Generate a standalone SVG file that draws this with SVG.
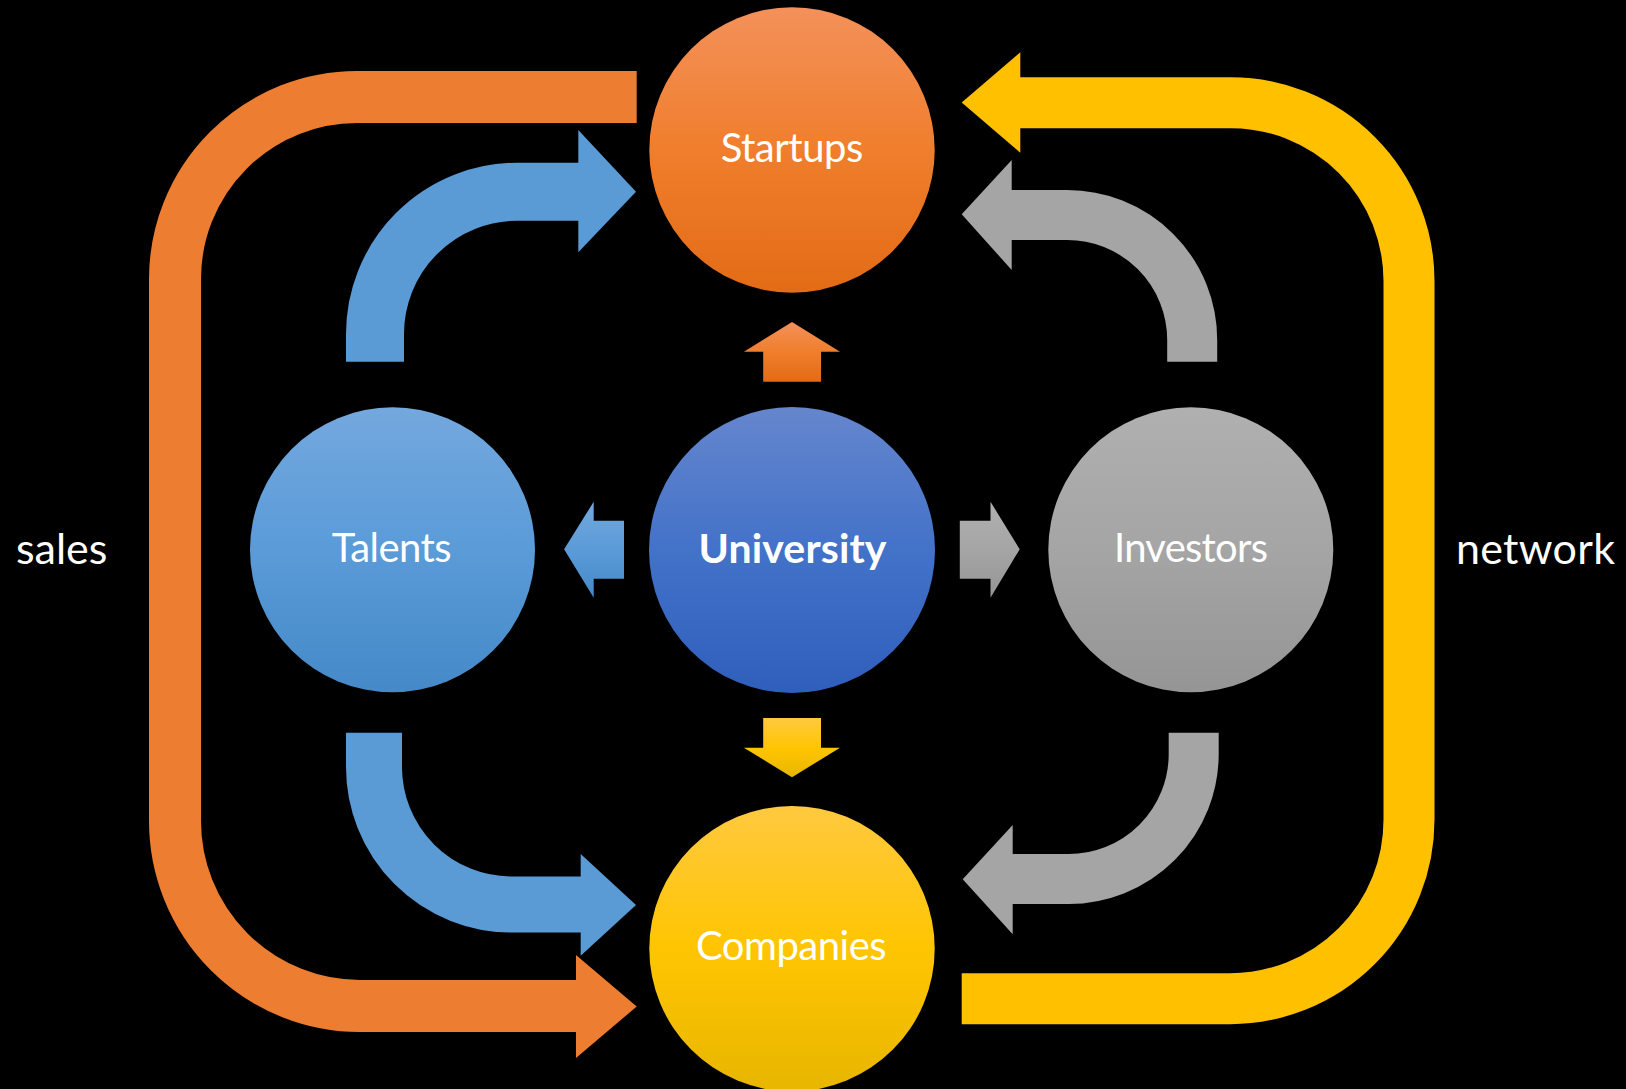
<svg xmlns="http://www.w3.org/2000/svg" width="1626" height="1089" viewBox="0 0 1626 1089">
<defs>
<linearGradient id="gOrange" x1="0" y1="0" x2="0" y2="1"><stop offset="0" stop-color="#F3915A"/><stop offset="0.5" stop-color="#F07E2C"/><stop offset="1" stop-color="#E36B16"/></linearGradient>
<linearGradient id="gBlue" x1="0" y1="0" x2="0" y2="1"><stop offset="0" stop-color="#74A8DE"/><stop offset="0.5" stop-color="#5A9BD8"/><stop offset="1" stop-color="#4589C8"/></linearGradient>
<linearGradient id="gUni" x1="0" y1="0" x2="0" y2="1"><stop offset="0" stop-color="#6586CD"/><stop offset="0.5" stop-color="#4372C9"/><stop offset="1" stop-color="#2F5FBC"/></linearGradient>
<linearGradient id="gGray" x1="0" y1="0" x2="0" y2="1"><stop offset="0" stop-color="#B0B0B0"/><stop offset="0.5" stop-color="#A5A5A5"/><stop offset="1" stop-color="#959595"/></linearGradient>
<linearGradient id="gYellow" x1="0" y1="0" x2="0" y2="1"><stop offset="0" stop-color="#FFC93F"/><stop offset="0.5" stop-color="#FFC502"/><stop offset="1" stop-color="#E8B600"/></linearGradient>
</defs>
<style>
.lbl{fill:#FFFFFF;font-family:"Lato","Open Sans","Liberation Sans",sans-serif;text-anchor:middle}
.side{fill:#FFFFFF;font-family:"Lato","Open Sans","Liberation Sans",sans-serif}
.band{fill:none;stroke-linecap:butt;stroke-linejoin:miter}
</style>
<rect x="0" y="0" width="1626" height="1089" fill="#000000"/>

<g id="connectors">
  <!-- sales (orange) -->
  <path class="band" d="M 636.7 97 H 357 A 182 182 0 0 0 175 279 V 821 A 185 185 0 0 0 360 1006 H 577" stroke="#ED7D31" stroke-width="52"/>
  <polygon points="576,955 636.7,1006.5 576,1058" fill="#ED7D31"/>
  <!-- network (yellow) -->
  <path class="band" d="M 961.7 998.7 H 1230 A 179 179 0 0 0 1409 819.7 V 281 A 178.3 178.3 0 0 0 1230.7 102.7 H 1019" stroke="#FFC000" stroke-width="51"/>
  <polygon points="1020.3,52.3 961.7,102.5 1020.3,152.7" fill="#FFC000"/>
  <!-- talents to startups -->
  <path class="band" d="M 375 361.7 V 334 A 142.3 142.3 0 0 1 517.3 191.7 H 579" stroke="#5B9BD5" stroke-width="58"/>
  <polygon points="578.3,130 636,191.7 578.3,252.3" fill="#5B9BD5"/>
  <!-- talents to companies -->
  <path class="band" d="M 374 732.7 V 767 A 137.5 137.5 0 0 0 511.5 904.5 H 581.5" stroke="#5B9BD5" stroke-width="56"/>
  <polygon points="580.7,854 636,905 580.7,955.7" fill="#5B9BD5"/>
  <!-- investors to startups -->
  <path class="band" d="M 1192.2 361.7 V 340 A 125 125 0 0 0 1067.2 215 H 1011" stroke="#A5A5A5" stroke-width="50"/>
  <polygon points="1011.7,160 961.7,214.3 1011.7,270" fill="#A5A5A5"/>
  <!-- investors to companies -->
  <path class="band" d="M 1193.7 732.7 V 754 A 125 125 0 0 1 1068.7 879 H 1012" stroke="#A5A5A5" stroke-width="50"/>
  <polygon points="1012.7,825 962.7,879.3 1012.7,934.3" fill="#A5A5A5"/>
  <!-- university small arrows -->
  <polygon points="792,322 840,351.7 821,351.7 821,381.7 763.2,381.7 763.2,351.7 743.9,351.7" fill="url(#gOrange)"/>
  <polygon points="763.2,718 821,718 821,747.7 840,747.7 792,777.3 743.9,747.7 763.2,747.7" fill="url(#gYellow)"/>
  <polygon points="564.1,549.3 593.7,501.7 593.7,520.7 624,520.7 624,578.7 593.7,578.7 593.7,597.7" fill="url(#gBlue)"/>
  <polygon points="959.8,520.7 990.5,520.7 990.5,501.7 1019.7,549.3 990.5,597.7 990.5,578.7 959.8,578.7" fill="url(#gGray)"/>
</g>

<g id="startups">
  <circle cx="792" cy="150" r="142.7" fill="url(#gOrange)"/>
  <text class="lbl" x="792" y="162.3" font-size="40" textLength="142.7">Startups</text>
</g>
<g id="talents">
  <circle cx="392.5" cy="549.8" r="142.5" fill="url(#gBlue)"/>
  <text class="lbl" x="391.7" y="561.7" font-size="40" textLength="120">Talents</text>
</g>
<g id="university">
  <circle cx="792" cy="550" r="143" fill="url(#gUni)"/>
  <text class="lbl" x="792.5" y="562.7" font-size="41" font-weight="bold" textLength="188">University</text>
</g>
<g id="investors">
  <circle cx="1190.8" cy="549.8" r="142.5" fill="url(#gGray)"/>
  <text class="lbl" x="1191" y="561.7" font-size="40" textLength="154">Investors</text>
</g>
<g id="companies">
  <circle cx="792" cy="948.7" r="142.7" fill="url(#gYellow)"/>
  <text class="lbl" x="791.3" y="960" font-size="40" textLength="190.7">Companies</text>
</g>
<g id="labels">
  <text class="side" x="16" y="564.3" font-size="43" textLength="91.3">sales</text>
  <text class="side" x="1456" y="564.3" font-size="43" textLength="159">network</text>
</g>
</svg>
